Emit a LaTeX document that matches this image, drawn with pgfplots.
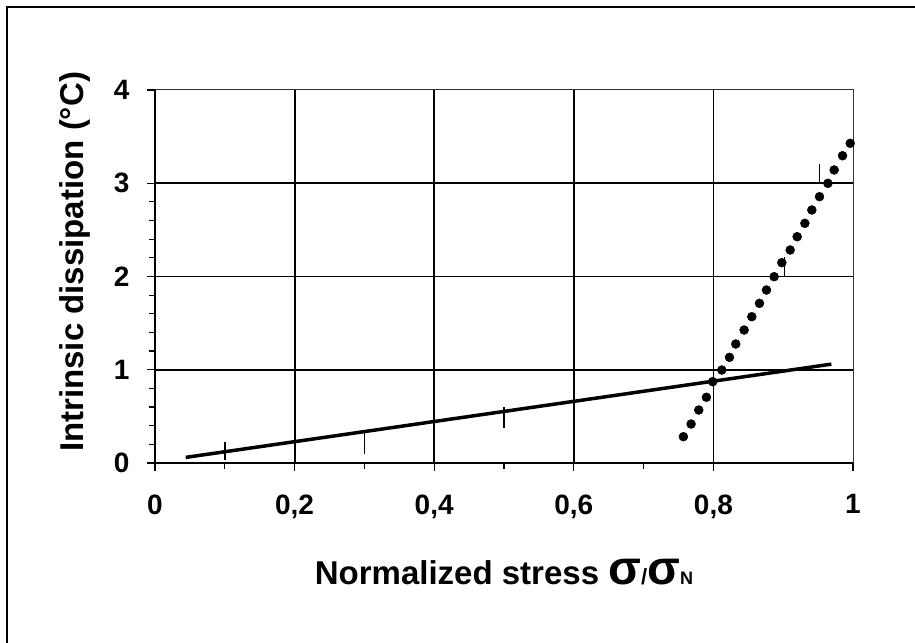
\documentclass[border=0pt]{standalone}
\usepackage{pgfplots}
\pgfplotsset{compat=1.18}
\usepackage{fontspec}
\setmainfont{Liberation Sans}
\begin{document}
\begin{tikzpicture}[x=1bp,y=1bp]
\useasboundingbox (0,0) rectangle (915,643);
\draw[line width=2.2bp] (7,0) -- (7,636) -- (915,636);
\begin{axis}[
  at={(155bp,180bp)}, anchor=south west,
  scale only axis, width=698bp, height=373bp,
  xmin=0, xmax=1, ymin=0, ymax=4,
  xtick={0,0.2,0.4,0.6,0.8}, extra x ticks={1}, extra x tick style={grid=none},
  ytick={0,1,2,3}, extra y ticks={4}, extra y tick style={grid=none},
  minor x tick num=1, minor y tick num=4,
  tick pos=left, tick align=outside,
  major tick length=8bp, minor tick length=6bp,
  every tick/.style={black, line width=1.2bp},
  grid=major,
  major grid style={black, line width=1.8bp},
  axis line style={black!80, line width=1bp},
  /pgf/number format/assume math mode=true,
  /pgf/number format/use comma,
  tick label style={font=\bfseries\fontsize{28bp}{32bp}\selectfont},
  xticklabel style={yshift=-20bp},
  yticklabel style={xshift=-14bp},
  xlabel={Normalized stress {\fontsize{48bp}{48bp}\selectfont σ}{\fontsize{22bp}{22bp}\selectfont /}{\fontsize{48bp}{48bp}\selectfont σ}{\fontsize{18bp}{18bp}\selectfont N}},
  ylabel={Intrinsic dissipation (°C)},
  xlabel style={font=\bfseries\fontsize{33bp}{36bp}\selectfont, at={(axis description cs:0.5,0)}, anchor=base, yshift=-122bp},
  ylabel style={font=\bfseries\fontsize{33bp}{36bp}\selectfont, at={(axis description cs:-0.103,0.539)}, anchor=base},
]
\draw[black, line width=1.8bp] (axis cs:0,0) -- (axis cs:0,4);
\draw[black, line width=1.8bp] (axis cs:0,0) -- (axis cs:1,0);
\addplot[black, line width=3.5bp] coordinates {(0.044,0.06) (0.969,1.06)};
\addplot[only marks, mark=*, mark size=4.5bp, black] coordinates {
(0.757,0.282) (0.768,0.418) (0.779,0.568) (0.790,0.705) (0.799,0.872)
(0.812,0.997) (0.823,1.133) (0.832,1.276) (0.844,1.426) (0.855,1.569)
(0.866,1.712) (0.876,1.855) (0.887,1.998) (0.898,2.148) (0.910,2.284)
(0.920,2.427) (0.931,2.570) (0.941,2.713) (0.952,2.856) (0.964,2.999)
(0.973,3.142) (0.985,3.295) (0.996,3.428)};
\addplot[black, line width=1.6bp] coordinates {(0.1,0.03) (0.1,0.22)};
\addplot[black, line width=1.6bp] coordinates {(0.3,0.10) (0.3,0.35)};
\addplot[black, line width=1.6bp] coordinates {(0.5,0.38) (0.5,0.60)};
\addplot[black, line width=1.6bp] coordinates {(0.9016,2.0) (0.9016,2.21)};
\addplot[black, line width=1.6bp] coordinates {(0.952,3.0) (0.952,3.21)};
\end{axis}
\end{tikzpicture}
\end{document}
